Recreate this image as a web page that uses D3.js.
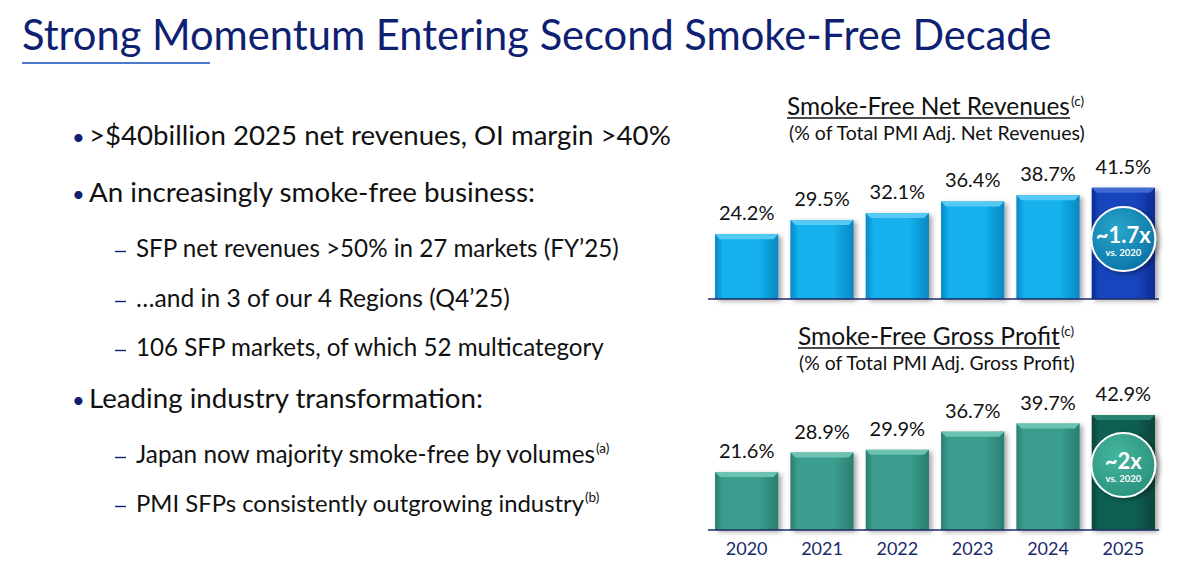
<!DOCTYPE html>
<html>
<head>
<meta charset="utf-8">
<script src="https://cdn.jsdelivr.net/npm/d3@7"></script>
<style>
  body { margin: 0; background: #fff; }
  svg { display: block; font-family: Lato, "Open Sans", sans-serif; }
</style>
</head>
<body>
<script>
var wd = 1183
var ht = 580

// ---- data ----
var years = ["2020", "2021", "2022", "2023", "2024", "2025"]
var netRevenueShare = [24.2, 29.5, 32.1, 36.4, 38.7, 41.5]
var grossProfitShare = [21.6, 28.9, 29.9, 36.7, 39.7, 42.9]
var multiples = ["~1.7x", "~2x"]

var bullets = [
  {lvl: 0, text: ">$40billion 2025 net revenues, OI margin >40%", y: 145, w: 582},
  {lvl: 0, text: "An increasingly smoke-free business:", y: 202, w: 446},
  {lvl: 1, text: "SFP net revenues >50% in 27 markets (FY\u201925)", y: 257, w: 483},
  {lvl: 1, text: "\u2026and in 3 of our 4 Regions (Q4\u201925)", y: 307, w: 374},
  {lvl: 1, text: "106 SFP markets, of which 52 multicategory", y: 356, w: 468},
  {lvl: 0, text: "Leading industry transformation:", y: 408, w: 394},
  {lvl: 1, text: "Japan now majority smoke-free by volumes", y: 463, w: 459, sup: "(a)"},
  {lvl: 1, text: "PMI SFPs consistently outgrowing industry", y: 512, w: 448, sup: "(b)"}
]

var navy = "#0f1f72"

var svg = d3.select("body").append("svg")
  .attr("width", wd)
  .attr("height", ht)

var defs = svg.append("defs")

function fitText(sel, target) {
  var fs = parseFloat(sel.attr("font-size"))
  var len = sel.node().getComputedTextLength()
  sel.attr("font-size", (fs * target / len).toFixed(2))
}

// ---- title ----
var title = svg.append("text")
  .attr("x", 22).attr("y", 50)
  .attr("font-size", 38)
  .attr("fill", navy)
  .text("Strong Momentum Entering Second Smoke-Free Decade")
fitText(title, 1030)

svg.append("line")
  .attr("x1", 22).attr("x2", 210)
  .attr("y1", 63).attr("y2", 63)
  .attr("stroke", "#4a78cf")
  .attr("stroke-width", 2)

// ---- bullets ----
bullets.forEach(function(b) {
  var tx = b.lvl == 0 ? 89 : 136
  var fs = b.lvl == 0 ? 25 : 21
  if (b.lvl == 0) {
    svg.append("text")
      .attr("x", 72).attr("y", b.y)
      .attr("font-size", 22)
      .attr("fill", navy)
      .text("\u2022")
  } else {
    // sub-item dash
    svg.append("line")
      .attr("x1", 115).attr("x2", 126)
      .attr("y1", b.y - 5.5).attr("y2", b.y - 5.5)
      .attr("stroke", navy).attr("stroke-width", 1.4)
  }
  var t = svg.append("text")
    .attr("x", tx).attr("y", b.y)
    .attr("font-size", fs)
    .attr("fill", "#111")
    .text(b.text)
  fitText(t, b.w)
  if (b.sup) {
    svg.append("text")
      .attr("x", tx + b.w + 1).attr("y", b.y - 10)
      .attr("font-size", 13.5)
      .attr("fill", "#111")
      .text(b.sup)
  }
})

// ---- gradients ----
function hGrad(id, edge, mid) {
  var g = defs.append("linearGradient").attr("id", id)
    .attr("x1", "0%").attr("x2", "100%").attr("y1", "0%").attr("y2", "0%")
  g.append("stop").attr("offset", "0%").attr("stop-color", edge)
  g.append("stop").attr("offset", "12%").attr("stop-color", mid)
  g.append("stop").attr("offset", "70%").attr("stop-color", mid)
  g.append("stop").attr("offset", "100%").attr("stop-color", edge)
}
hGrad("blueBar", "#0a86c2", "#12b0ec")
hGrad("blueLast", "#0b2c94", "#1745bd")
hGrad("tealBar", "#2a7e71", "#3b9d8d")
hGrad("tealLast", "#07443b", "#0d5f52")

function rGrad(id, c1, c2) {
  var g = defs.append("radialGradient").attr("id", id)
    .attr("cx", "40%").attr("cy", "35%").attr("r", "70%")
  g.append("stop").attr("offset", "0%").attr("stop-color", c1)
  g.append("stop").attr("offset", "100%").attr("stop-color", c2)
}
rGrad("blueCirc", "#2aa6c8", "#0b74a8")
rGrad("tealCirc", "#45b59e", "#2a927e")

var shadow = defs.append("filter").attr("id", "shadow")
  .attr("x", "-30%").attr("y", "-30%").attr("width", "170%").attr("height", "170%")
shadow.append("feDropShadow")
  .attr("dx", 3).attr("dy", 2).attr("stdDeviation", 2.5)
  .attr("flood-color", "#000").attr("flood-opacity", 0.35)

// ---- bar panels ----
var x = d3.scaleBand()
  .domain(years)
  .range([709, 1161])
  .paddingInner(0.16)
  .paddingOuter(0.08)

function panel(opts) {
  var y = d3.scaleLinear()
    .domain([0, 45])
    .range([opts.base, opts.base - 45 * 2.68])

  var g = svg.append("g")
  var data = years.map(function(yr, i) { return {year: yr, v: opts.values[i], last: i == years.length - 1} })

  // headline + subtitle
  var h = g.append("text")
    .attr("x", opts.titleX).attr("y", opts.titleY)
    .attr("font-size", 22)
    .attr("fill", "#111")
    .text(opts.title)
  fitText(h, opts.titleW)
  g.append("line")
    .attr("x1", opts.titleX).attr("x2", opts.titleX + opts.titleW)
    .attr("y1", opts.titleY + 3).attr("y2", opts.titleY + 3)
    .attr("stroke", "#111").attr("stroke-width", 1.3)
  g.append("text")
    .attr("x", opts.titleX + opts.titleW + 1).attr("y", opts.titleY - 9)
    .attr("font-size", 13.5).attr("fill", "#111")
    .text("(c)")
  var s = g.append("text")
    .attr("x", opts.subX).attr("y", opts.titleY + 25)
    .attr("font-size", 17)
    .attr("fill", "#111")
    .text(opts.sub)
  fitText(s, opts.subW)

  var bars = g.selectAll(".bar").data(data).enter().append("g")

  bars.append("rect")
    .attr("x", function(d) { return x(d.year) })
    .attr("y", function(d) { return y(d.v) })
    .attr("width", x.bandwidth())
    .attr("height", function(d) { return y(0) - y(d.v) })
    .attr("fill", function(d) { return d.last ? "url(#" + opts.lastFill + ")" : "url(#" + opts.fill + ")" })
    .attr("filter", "url(#shadow)")

  // top bevel
  bars.append("path")
    .attr("d", function(d) {
      var x0 = x(d.year), x1 = x0 + x.bandwidth(), t = y(d.v)
      return "M" + x0 + "," + t + "L" + x1 + "," + t + "L" + (x1 - 5) + "," + (t + 5) + "L" + (x0 + 5) + "," + (t + 5) + "Z"
    })
    .attr("fill", function(d) { return d.last ? opts.lastBevel : opts.bevel })

  bars.append("text")
    .attr("x", function(d) { return x(d.year) + x.bandwidth() / 2 })
    .attr("y", function(d) { return y(d.v) - 14 })
    .attr("text-anchor", "middle")
    .attr("font-size", 20)
    .attr("fill", "#111")
    .text(function(d) { return d.v.toFixed(1) + "%" })

  g.append("line")
    .attr("x1", 708).attr("x2", 1159)
    .attr("y1", opts.base).attr("y2", opts.base)
    .attr("stroke", "#1b2a6b").attr("stroke-width", 1.5)

  // multiple badge on last bar
  var cx = x(years[5]) + x.bandwidth() / 2
  g.append("circle")
    .attr("cx", cx).attr("cy", opts.circY).attr("r", 32)
    .attr("fill", "url(#" + opts.circ + ")")
    .attr("stroke", "#fff").attr("stroke-width", 2)
    .attr("filter", "url(#shadow)")
  g.append("text")
    .attr("x", cx).attr("y", opts.circY + 4)
    .attr("text-anchor", "middle")
    .attr("font-size", 22).attr("font-weight", "bold")
    .attr("fill", "#fff")
    .text(opts.multiple)
  g.append("text")
    .attr("x", cx).attr("y", opts.circY + 17)
    .attr("text-anchor", "middle")
    .attr("font-size", 9.5).attr("font-weight", "bold")
    .attr("fill", "#fff")
    .text("vs. 2020")

  return g
}

panel({
  values: netRevenueShare, base: 299,
  title: "Smoke-Free Net Revenues", titleX: 787, titleY: 115, titleW: 283,
  sub: "(% of Total PMI Adj. Net Revenues)", subX: 789, subW: 296,
  fill: "blueBar", lastFill: "blueLast", bevel: "#55cbf4", lastBevel: "#3f6ad2",
  circ: "blueCirc", circY: 239, multiple: multiples[0]
})

panel({
  values: grossProfitShare, base: 530,
  title: "Smoke-Free Gross Profit", titleX: 798, titleY: 345, titleW: 262,
  sub: "(% of Total PMI Adj. Gross Profit)", subX: 799, subW: 276,
  fill: "tealBar", lastFill: "tealLast", bevel: "#6cc3b3", lastBevel: "#2a8273",
  circ: "tealCirc", circY: 465, multiple: multiples[1]
})

// year axis under the lower panel
var xAxis = d3.axisBottom(x).tickSize(0).tickPadding(12)
var ax = svg.append("g")
  .attr("transform", "translate(0,530)")
  .call(xAxis)
ax.select(".domain").remove()
ax.selectAll("text")
  .attr("font-family", "Lato, sans-serif")
  .attr("font-size", 18)
  .attr("fill", "#1b2a6b")
</script>
</body>
</html>
